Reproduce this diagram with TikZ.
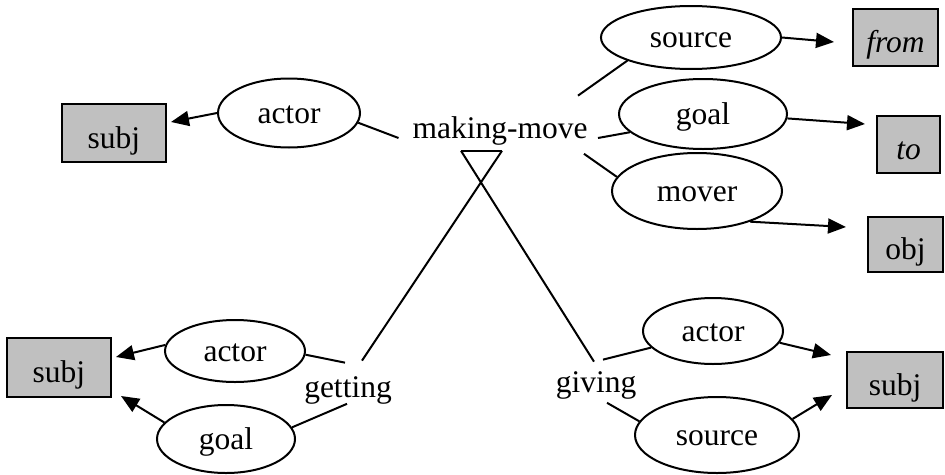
\documentclass[tikz,border=0pt]{standalone}
\usepackage{fontspec}
\setmainfont{Liberation Serif}
\usetikzlibrary{arrows.meta,shapes.geometric}
\definecolor{boxgray}{RGB}{192,192,192}
\begin{document}
\begin{tikzpicture}[x=1pt,y=-1pt,
  line width=2pt,
  font=\fontsize{31.5}{36}\selectfont,
  oval/.style={draw, ellipse, inner sep=0pt, text height=25pt, text depth=5pt},
  role/.style={draw, fill=boxgray, inner sep=0pt, text height=30pt, text depth=0pt},
  frame/.style={anchor=base, inner sep=0pt},
  arrow/.style={-{Triangle[length=18pt,width=15pt]}},
]
\useasboundingbox (0,0) rectangle (945,474);

% making-move frame with its roles
\node[frame] (mm) at (500,138) {making-move};
\node[oval, minimum width=142pt, minimum height=69pt] (tActor) at (289,113) {actor};
\node[role, minimum width=104pt, minimum height=58pt] (tSubj) at (114,133) {subj};
\node[oval, minimum width=180pt, minimum height=63pt] (tSource) at (691,37.5) {source};
\node[oval, minimum width=168pt, minimum height=70pt] (tGoal) at (703,114) {goal};
\node[oval, minimum width=170pt, minimum height=76pt] (tMover) at (697,191) {mover};
\node[role, minimum width=85pt, minimum height=57pt] (fromBox) at (895.5,37.5) {\itshape from};
\node[role, minimum width=63pt, minimum height=57pt] (toBox) at (908.5,144.5) {\itshape to};
\node[role, minimum width=75pt, minimum height=55pt] (objBox) at (905.5,244.5) {obj};

% getting frame
\node[frame] (get) at (348,397) {getting};
\node[oval, minimum width=140pt, minimum height=62pt] (bActor) at (235,351) {actor};
\node[oval, minimum width=138pt, minimum height=68pt] (bGoal) at (226,439) {goal};
\node[role, minimum width=104pt, minimum height=59pt] (bSubj) at (59,367.5) {subj};

% giving frame
\node[frame] (giv) at (596,392) {giving};
\node[oval, minimum width=140pt, minimum height=66pt] (gActor) at (713,331) {actor};
\node[oval, minimum width=164pt, minimum height=76pt] (gSource) at (717,435) {source};
\node[role, minimum width=96pt, minimum height=56pt] (gSubj) at (895,380) {subj};

% inheritance triangle under making-move
\coordinate (triL) at ([shift={(-39pt,-5pt)}]mm.south);
\coordinate (triR) at ([shift={(2pt,-5pt)}]mm.south);
\draw (triL) -- (triR);
\draw (triR) -- ([shift={(14pt,14.5pt)}]get.north);
\draw (triL) -- ([shift={(-2pt,8.5pt)}]giv.north);

% making-move links
\draw[arrow] (tActor.west) -- ([shift={(4pt,11pt)}]tSubj.east);
\draw (tActor.-8) -- ([xshift=-13pt]mm.base west);
\draw ([shift={(-10.5pt,19.5pt)}]mm.north east) -- (tSource.200);
\draw[arrow] (tSource.east) -- ([shift={(-18pt,-4.5pt)}]fromBox.west);
\draw ([xshift=9.5pt]mm.base east) -- (tGoal.194);
\draw[arrow] (tGoal.-3) -- ([shift={(-11pt,20.5pt)}]toBox.west);
\draw ([shift={(-4.5pt,-8pt)}]mm.south east) -- (tMover.170);
\draw[arrow] (tMover.-30) -- ([shift={(-21pt,17.5pt)}]objBox.west);

% getting links
\draw[arrow] (bActor.175) -- ([shift={(4pt,10.5pt)}]bSubj.east);
\draw (bActor.-3) -- ([shift={(-3pt,12.5pt)}]get.north);
\draw[arrow] (bGoal.165) -- ([shift={(9pt,2pt)}]bSubj.south east);
\draw (bGoal.10) -- ([shift={(-1pt,1pt)}]get.south);

% giving links
\draw ([shift={(7pt,10.5pt)}]giv.north) -- (gActor.195);
\draw[arrow] (gActor.-10) -- ([shift={(-15pt,25pt)}]gSubj.west);
\draw ([shift={(11pt,-3pt)}]giv.south) -- (gSource.170);
\draw[arrow] (gSource.12) -- ([shift={(-14pt,-15pt)}]gSubj.west);
\end{tikzpicture}
\end{document}
